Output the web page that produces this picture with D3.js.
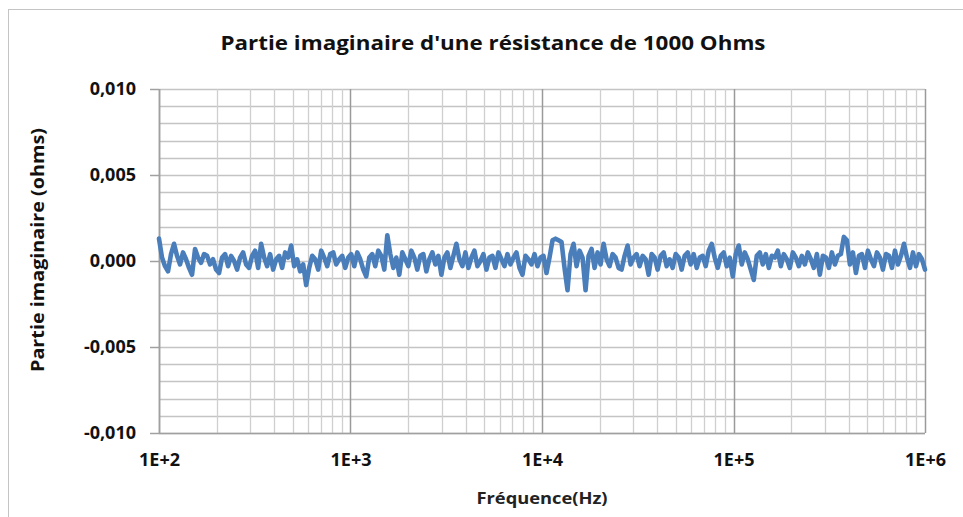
<!DOCTYPE html>
<html><head><meta charset="utf-8">
<script src="https://cdn.jsdelivr.net/npm/d3@7"></script>
<style>body{margin:0;background:#fff}svg{display:block}</style>
</head><body>
<svg id="c" width="963" height="517"></svg>
<script>
const chartTitle = "Partie imaginaire d'une résistance de 1000 Ohms";
const xTitle = "Fréquence(Hz)";
const yTitle = "Partie imaginaire (ohms)";
const freqStart = 100, freqStop = 1e6;
const xTickValues = [1e2, 1e3, 1e4, 1e5, 1e6];
const xTickLabels = ["1E+2", "1E+3", "1E+4", "1E+5", "1E+6"];
const yTickValues = [0.01, 0.005, 0, -0.005, -0.01];
const yTickLabels = ["0,010", "0,005", "0,000", "-0,005", "-0,010"];
// imaginary part, in units of 1e-4 ohm, log sweep 100 Hz -> 1 MHz
const imagPartE4 = [
 13, 2, -3, -6, 4, 10, 3, -2, 5, 1, -4, -8, 7, 2, -1, 4,
 3, -2, 1, -5, -7, 2, 4, -3, 3, 0, -5, 2, 5, -2, -4, 3,
 6, -4, 10, 2, -3, 4, -5, 1, 3, -4, 5, 2, 9, -3, 1, -6,
 -2, -14, -4, 3, 1, -5, 6, 2, -3, 4, 5, -2, 1, 3, -4, 2,
 4, -3, 5, 1, -5, -9, 2, 4, -3, 6, 3, -5, 15, 4, -4, 2,
 -8, 5, 1, -3, 6, 2, -5, 3, 4, -6, 1, 5, -2, 3, -8, 2,
 5, -4, 3, 10, 1, -3, 5, -4, 2, 6, -3, 0, 4, -5, 2, 3,
 -4, 5, 1, -3, 4, -2, 2, 5, -4, -8, 3, 1, -2, 4, -3, 2,
 3, -7, 2, 12, 13, 12, 11, -4, -17, 4, 10, -3, 6, 2, -17, 3,
 7, -4, 5, -2, 10, 1, -3, 4, 2, -4, -5, 3, 9, -2, 2, 4,
 -3, 3, 1, -8, 4, 2, -5, 3, 5, -3, 1, -4, 4, 2, -5, 3,
 5, -2, 4, -4, 2, 3, -3, 6, 10, 2, -4, 3, 5, -3, 2, -9,
 4, 9, -2, 5, 1, -5, -11, 3, 5, -2, 4, -4, 3, 2, 6, -3,
 4, 1, -4, 5, 2, -3, 3, -2, 5, 1, -4, 4, -8, 3, 2, -4,
 5, -2, 3, 4, 14, 12, -2, 5, -7, 3, 4, -4, 6, 1, -3, 5,
 2, -5, 4, 3, -4, 6, -2, 3, 10, 2, -4, 5, -3, 4, 1, -5
];

const n = imagPartE4.length;
const data = imagPartE4.map((v, i) => ({
  f: freqStart * Math.pow(freqStop / freqStart, i / (n - 1)),
  v: v * 1e-4
}));

const svg = d3.select("#c");
const L = 159, R = 925, T = 89, B = 433;
const x = d3.scaleLog().domain([freqStart, freqStop]).range([L, R]);
const y = d3.scaleLinear().domain([-0.01, 0.01]).range([B, T]);
const font = "'Open Sans', 'Noto Sans', sans-serif";

// outer frame
svg.append("rect").attr("x", 8.5).attr("y", 9.5).attr("width", 1200).attr("height", 800)
  .attr("fill", "none").attr("stroke", "#c4c4c4").attr("stroke-width", 1);

// horizontal grid every 0.001
const hVals = d3.range(-10, 11).map(k => k * 0.001);
svg.append("g").selectAll("line").data(hVals).join("line")
  .attr("x1", L).attr("x2", R)
  .attr("y1", d => Math.round(y(d)) + 0.5).attr("y2", d => Math.round(y(d)) + 0.5)
  .attr("stroke", "#c4c4c4").attr("stroke-width", 1.3);

// vertical minor grid
const minor = [];
for (let dec = 2; dec < 6; dec++) for (let m = 2; m <= 9; m++) minor.push(m * Math.pow(10, dec));
svg.append("g").selectAll("line").data(minor).join("line")
  .attr("x1", d => Math.round(x(d)) + 0.5).attr("x2", d => Math.round(x(d)) + 0.5)
  .attr("y1", T).attr("y2", B)
  .attr("stroke", "#cfcfcf").attr("stroke-width", 1.3);
// vertical major grid
svg.append("g").selectAll("line").data(xTickValues).join("line")
  .attr("x1", d => Math.round(x(d)) + 0.5).attr("x2", d => Math.round(x(d)) + 0.5)
  .attr("y1", T).attr("y2", B)
  .attr("stroke", "#9a9a9a").attr("stroke-width", 1.5);

// axes lines
svg.append("line").attr("x1", L + 0.5).attr("x2", L + 0.5).attr("y1", T).attr("y2", B)
  .attr("stroke", "#a0a0a0").attr("stroke-width", 1.5);
svg.append("line").attr("x1", L).attr("x2", R).attr("y1", B + 0.5).attr("y2", B + 0.5)
  .attr("stroke", "#a0a0a0").attr("stroke-width", 1.5);

// y ticks
const yAxis = d3.axisLeft(y).tickValues(yTickValues)
  .tickFormat((d, i) => yTickLabels[i]).tickSize(9).tickPadding(14);
const gy = svg.append("g").attr("transform", `translate(${L},0)`).call(yAxis);
gy.select(".domain").remove();
gy.selectAll(".tick line").attr("stroke", "#a0a0a0").attr("stroke-width", 1.5);
gy.selectAll(".tick text").attr("font-family", font).attr("font-weight", "bold")
  .attr("font-size", 18).attr("fill", "#111");

// x ticks
const xAxis = d3.axisBottom(x).tickValues(xTickValues)
  .tickFormat((d, i) => xTickLabels[i]).tickSize(0).tickPadding(20);
const gx = svg.append("g").attr("transform", `translate(0,${B})`).call(xAxis);
gx.select(".domain").remove();
gx.selectAll(".tick text").attr("font-family", font).attr("font-weight", "bold")
  .attr("font-size", 18).attr("fill", "#111");

// data line
const line = d3.line().x(d => x(d.f)).y(d => y(d.v)).curve(d3.curveLinear);
svg.append("path").datum(data).attr("d", line)
  .attr("fill", "none").attr("stroke", "#4a7ebb").attr("stroke-width", 4.6)
  .attr("stroke-linejoin", "round").attr("stroke-linecap", "round");

// titles
svg.append("text").attr("x", 493).attr("y", 50).attr("text-anchor", "middle")
  .attr("font-family", font).attr("font-weight", "bold").attr("font-size", 20)
  .attr("textLength", 545).attr("lengthAdjust", "spacingAndGlyphs")
  .attr("fill", "#111").text(chartTitle);
svg.append("text").attr("x", 542).attr("y", 504).attr("text-anchor", "middle")
  .attr("font-family", font).attr("font-weight", "bold").attr("font-size", 16)
  .attr("textLength", 131).attr("lengthAdjust", "spacingAndGlyphs")
  .attr("fill", "#222").text(xTitle);
svg.append("text").attr("transform", "translate(44,250) rotate(-90)").attr("text-anchor", "middle")
  .attr("font-family", font).attr("font-weight", "bold").attr("font-size", 17)
  .attr("textLength", 244).attr("lengthAdjust", "spacingAndGlyphs")
  .attr("fill", "#111").text(yTitle);
</script>
</body></html>
